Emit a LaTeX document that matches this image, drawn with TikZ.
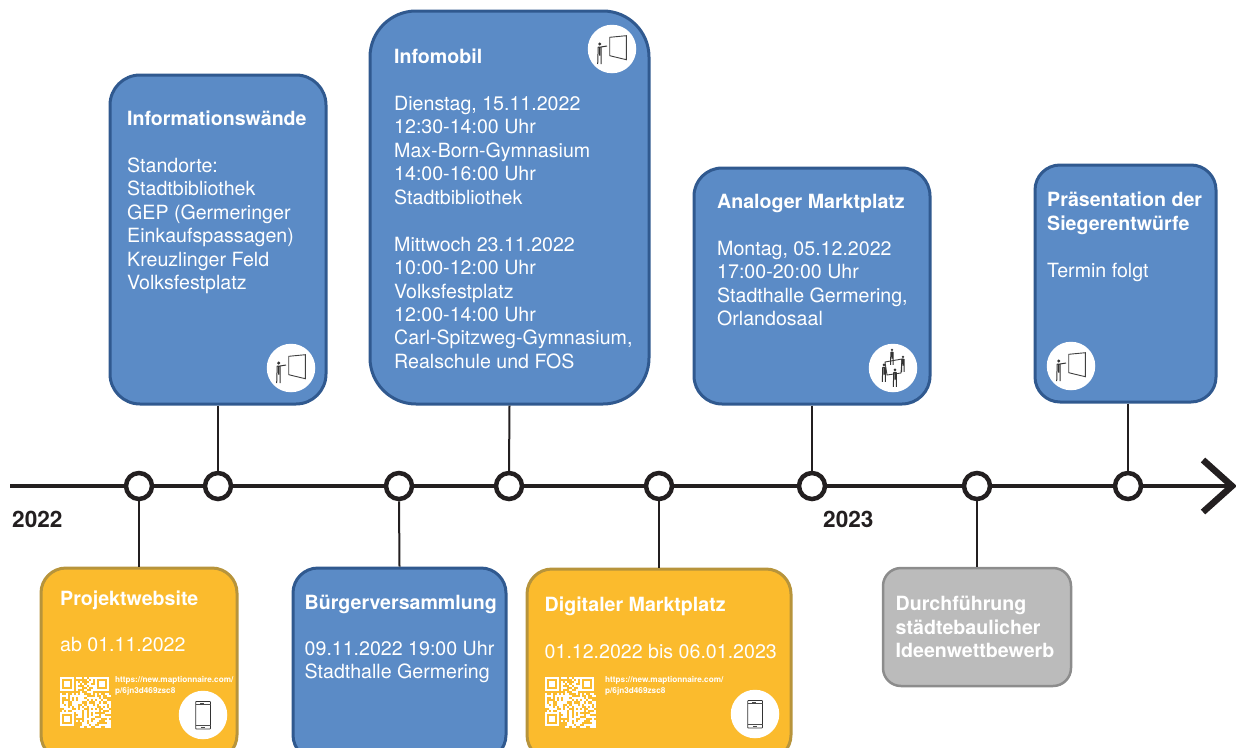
\documentclass[tikz,border=0pt]{standalone}
\usepackage{fontspec}
\setmainfont{TeX Gyre Heros}
\usetikzlibrary{calc}
\definecolor{planblue}{HTML}{5B8BC6}
\definecolor{planblueline}{HTML}{30598F}
\definecolor{planyellow}{HTML}{FBBB2D}
\definecolor{planyellowline}{HTML}{B7943B}
\definecolor{plangray}{HTML}{BBBBBB}
\definecolor{plangrayline}{HTML}{8C8C8C}
\definecolor{planblack}{HTML}{231F20}
\tikzset{
	bluebox/.style={rounded corners=#1,draw=planblueline,fill=planblue,line width=3pt},
	yellowbox/.style={rounded corners=#1,draw=planyellowline,fill=planyellow,line width=3pt},
	graybox/.style={rounded corners=#1,draw=plangrayline,fill=plangray,line width=2.5pt},
	titletext/.style={anchor=north west,inner sep=0pt,align=left,text=white,font=\fontsize{19.6}{23.45}\selectfont\bfseries},
	bodytext/.style={anchor=north west,inner sep=0pt,align=left,text=white,font=\fontsize{19.6}{23.45}\selectfont},
	urltext/.style={anchor=north west,inner sep=0pt,align=left,text=white,font=\fontsize{8.2}{11.5}\selectfont\bfseries},
	yeartext/.style={anchor=north west,inner sep=0pt,text=planblack,font=\fontsize{22.6}{26}\selectfont\bfseries},
	iconback/.style={circle,fill=white,inner sep=0pt,minimum size=48.5pt},
	stopdot/.style={circle,draw=planblack,fill=white,line width=4.5pt,inner sep=0pt,minimum size=26pt},
	stem/.style={draw=planblack,line width=2pt},
	person/.pic={
		\fill[black!80] (0,-9.5) circle (1.7);
		\draw[black!80,line width=1pt] (-1.5,-6.5) -- (-2,10.5) (1.5,-6.5) -- (1.5,10.5) (-1.5,-6.5) -- (1.5,-6.5) (0,-6.5) -- (0,2);
	},
	presenter/.pic={
		\draw[black!75,line width=.9pt,fill=white] (-2.3,-11.7) -- (14.3,-13.3) -- (14.3,10.7) -- (-2.3,6.7) -- cycle;
		\pic at (-12.3,4.5) {person};
		\draw[black!80,line width=1pt] (-11,-2) -- (-5,-3);
	},
	crowd/.pic={
		\draw[black!75,line width=.9pt,fill=white] (-8,-6) -- (9,-9) -- (8,5) -- (-6,7) -- cycle;
		\pic[scale=.75] at (-1,-11) {person};
		\pic[scale=.85] at (-9,5) {person};
		\pic[scale=.75] at (10,-4) {person};
		\pic[scale=.85] at (2,10) {person};
	},
	phone/.pic={
		\draw[black!80,line width=.8pt,rounded corners=.6pt] (-7.3,-13.5) rectangle (7.5,14);
		\draw[black!70,line width=.4pt] (-7.3,-10.5) -- (7.5,-10.5) (-7.3,10.5) -- (7.5,10.5);
		\draw[black!70,line width=.6pt] (-2,12.2) -- (2,12.2) (-3,-12) -- (1,-12);
	},
	qrfinder/.pic={
		\draw[white,line width=2pt] (1,1) rectangle (13,13);
		\fill[white] (4,4) rectangle (10,10);
	},
	qrcode/.pic={
		\pgfmathsetseed{4711}
		\foreach \row in {0,...,24} {
			\foreach \col in {0,...,24} {
				\pgfmathtruncatemacro{\on}{random(0,99)<52 ? 1 : 0}
				\pgfmathtruncatemacro{\free}{((\row<8 && \col<8) || (\row<8 && \col>16) || (\row>16 && \col<8)) ? 0 : 1}
				\ifnum\on\free=11
					\fill[white] (\col*2.04,\row*2.04) rectangle ++(2.04,2.04);
				\fi
			}
		}
		\pic at (0,0) {qrfinder};
		\pic at (35,0) {qrfinder};
		\pic at (0,35) {qrfinder};
	}
}
\begin{document}
\begin{tikzpicture}[x=1pt,y=-1pt]
	\useasboundingbox (0,0) rectangle (1236,747);
	\coordinate (linestart) at (10,486);
	\coordinate (lineend) at (1232,486);
	\coordinate (tipup) at (1203,460);
	\coordinate (tipdown) at (1203,512);

	\draw[planblack,line width=4.5pt] (linestart) -- (lineend);
	\draw[planblack,line width=6.5pt,miter limit=4] (tipup) -- (lineend) -- (tipdown);

	\begin{scope}[every node/.style={stopdot}]
		\node (projektstop) at (139,486) {};
		\node (wandstop) at (218,486) {};
		\node (buergerstop) at (399,486) {};
		\node (mobilstop) at (509,486) {};
		\node (digitalstop) at (659,486) {};
		\node (analogstop) at (812,486) {};
		\node (wettbewerbstop) at (977,486) {};
		\node (siegerstop) at (1128,486) {};
	\end{scope}

	\node [yeartext] (year22) at (12,511) {2022};
	\node [yeartext] (year23) at (823,511) {2023};

	\node [bluebox=30pt,minimum width=216pt,minimum height=329pt] (wand) at (218,239.5) {};
	\node [bluebox=46pt,minimum width=279pt,minimum height=393pt] (mobil) at (509.5,207.5) {};
	\node [bluebox=28pt,minimum width=236pt,minimum height=236pt] (analog) at (812,286) {};
	\node [bluebox=25pt,minimum width=181pt,minimum height=237pt] (sieger) at (1125.5,283.5) {};
	\node [yellowbox=25pt,minimum width=196pt,minimum height=192pt] (projekt) at (139,664) {};
	\node [bluebox=25pt,minimum width=213pt,minimum height=192pt] (buerger) at (399.5,664) {};
	\node [yellowbox=25pt,minimum width=264pt,minimum height=191pt] (digital) at (659,664.5) {};
	\node [graybox=18pt,minimum width=188pt,minimum height=118pt] (wettbewerb) at (977,627) {};

	\begin{scope}[every path/.style={stem}]
		\path (wand.south) -- (wandstop.north);
		\path (mobil.south) -- (mobilstop.north);
		\path (analog.south) -- (analogstop.north);
		\path (sieger.south -| siegerstop) -- (siegerstop.north);
		\path (projektstop.south) -- (projekt.north);
		\path (buergerstop.south) -- (buerger.north);
		\path (digitalstop.south) -- (digital.north);
		\path (wettbewerbstop.south) -- (wettbewerb.north);
	\end{scope}

	\begin{scope}[every node/.style={titletext}]
		\node (wandtitle) at (127,111) {Informationswände};
		\node (mobiltitle) at (394,49) {Infomobil};
		\node (analogtitle) at (717,194) {Analoger Marktplatz};
		\node (siegertitle) at (1047,192) {Präsentation der\\Siegerentwürfe};
		\node (projekttitle) at (60,591) {Projektwebsite};
		\node (buergertitle) at (304.5,595) {Bürgerversammlung};
		\node (digitaltitle) at (544.5,597) {Digitaler Marktplatz};
		\node (wettbewerbtitle) at (895.5,596) {Durchführung\\städtebaulicher\\Ideenwettbewerb};
	\end{scope}

	\begin{scope}[every node/.style={bodytext}]
		\node (wandbody) at (127,157.5) {Standorte:\\Stadtbibliothek\\GEP (Germeringer\\Einkaufspassagen)\\Kreuzlinger Feld\\Volksfestplatz};
		\node (mobilbody) at (394,96) {Dienstag, 15.11.2022\\12:30-14:00 Uhr\\Max-Born-Gymnasium\\14:00-16:00 Uhr\\Stadtbibliothek\\[23.45pt]Mittwoch 23.11.2022\\10:00-12:00 Uhr\\Volksfestplatz\\12:00-14:00 Uhr\\Carl-Spitzweg-Gymnasium,\\Realschule und FOS};
		\node (analogbody) at (717,241) {Montag, 05.12.2022\\17:00-20:00 Uhr\\Stadthalle Germering,\\Orlandosaal};
		\node (siegerbody) at (1047,262.5) {Termin folgt};
		\node (projektbody) at (60,637.5) {ab 01.11.2022};
		\node (buergerbody) at (304.5,641) {09.11.2022 19:00 Uhr\\Stadthalle Germering};
		\node (digitalbody) at (544.5,644) {01.12.2022 bis 06.01.2023};
	\end{scope}

	\begin{scope}[every node/.style={urltext}]
		\node (projekturl) at (115,676) {https://new.maptionnaire.com/\\p/6jn3d469zsc8};
		\node (digitalurl) at (605,676) {https://new.maptionnaire.com/\\p/6jn3d469zsc8};
	\end{scope}

	\pic at (60,677) {qrcode};
	\pic at (545,677) {qrcode};

	\node [iconback] (wandicon) at (291,368) {};
	\node [iconback] (mobilicon) at (612,49) {};
	\node [iconback] (analogicon) at (893,368) {};
	\node [iconback] (siegericon) at (1071,366) {};
	\node [iconback] (projekticon) at (203,715) {};
	\node [iconback] (digitalicon) at (755,714) {};

	\pic at (wandicon) {presenter};
	\pic at (mobilicon) {presenter};
	\pic at (analogicon) {crowd};
	\pic at (siegericon) {presenter};
	\pic at (projekticon) {phone};
	\pic at (digitalicon) {phone};
\end{tikzpicture}
\end{document}
